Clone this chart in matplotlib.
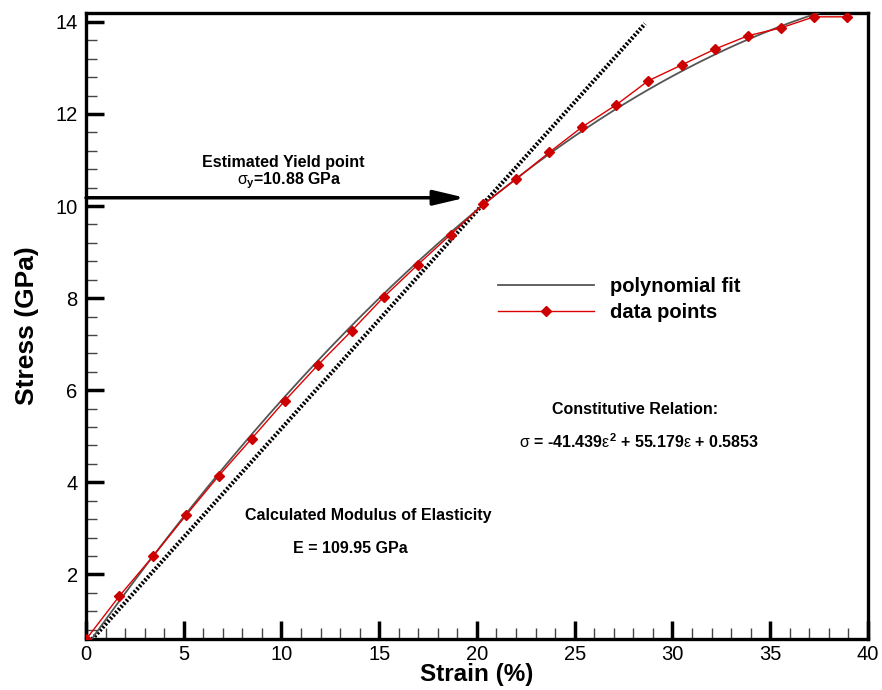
import matplotlib
matplotlib.use("Agg")
import matplotlib.pyplot as plt
import numpy as np
from matplotlib.ticker import MultipleLocator

# measured stress-strain points
strain = [0.0, 1.69, 3.42, 5.11, 6.79, 8.48, 10.17, 11.85, 13.59, 15.22, 16.96, 18.65,
          20.33, 22.02, 23.71, 25.39, 27.13, 28.76, 30.5, 32.18, 33.87, 35.55, 37.24, 38.93]
stress = [0.585, 1.52, 2.39, 3.28, 4.14, 4.95, 5.77, 6.54, 7.29, 8.02, 8.72, 9.38,
          10.04, 10.59, 11.17, 11.72, 12.20, 12.72, 13.07, 13.41, 13.70, 13.87, 14.11, 14.11]

# linear elastic line (end points)
elastic_strain = [0.3, 28.6]
elastic_stress = [0.585, 13.96]

yield_stress = 10.18
yield_strain = 19.4

x_ticks = [0, 5, 10, 15, 20, 25, 30, 35, 40]
y_ticks = [2, 4, 6, 8, 10, 12, 14]

plt.rcParams['font.family'] = ['Liberation Sans', 'DejaVu Sans']
plt.rcParams['mathtext.fontset'] = 'custom'
plt.rcParams['mathtext.rm'] = 'Liberation Sans'
plt.rcParams['mathtext.it'] = 'Liberation Sans'
plt.rcParams['mathtext.bf'] = 'Liberation Sans:bold'

fig = plt.figure(figsize=(8.82, 6.9), dpi=100)
ax = fig.add_axes([0.0975, 0.0732, 0.8865, 0.9084])

coef = np.polyfit(strain, stress, 2)
xs = np.linspace(0, 39, 300)
ax.plot(xs, np.polyval(coef, xs), color='#555555', lw=1.3, label='polynomial fit', zorder=3)
ax.plot(strain, stress, color='#dd0000', lw=1.0, marker='D', markersize=5.5,
        markeredgecolor='#cc0000', markerfacecolor='#cc0000', label='data points', zorder=4)
ax.plot(elastic_strain, elastic_stress, color='black', lw=3.0, linestyle=(0, (0.5, 0.45)), zorder=2)

ax.annotate('', xy=(yield_strain, yield_stress), xytext=(0, yield_stress),
            arrowprops=dict(arrowstyle='-|>,head_length=1.9,head_width=0.45', lw=2.5,
                            color='black', shrinkA=0, shrinkB=0))

ax.text(10.1, 10.95, 'Estimated Yield point', ha='center', va='center', fontsize=11.5, fontweight='bold')
ax.text(10.4, 10.55, r'$\sigma_\mathbf{y}$=10.88 GPa', ha='center', va='center', fontsize=11.5, fontweight='bold')
ax.text(28.1, 5.59, 'Constitutive Relation:', ha='center', va='center', fontsize=11.5, fontweight='bold')
ax.text(28.3, 4.89, r'$\sigma$ = -41.439$\varepsilon^\mathbf{2}$ + 55.179$\varepsilon$ + 0.5853',
        ha='center', va='center', fontsize=11.5, fontweight='bold')
ax.text(14.45, 3.28, 'Calculated Modulus of Elasticity', ha='center', va='center', fontsize=11.5, fontweight='bold')
ax.text(13.5, 2.57, 'E = 109.95 GPa', ha='center', va='center', fontsize=11.5, fontweight='bold')

leg = ax.legend(loc='center left', bbox_to_anchor=(0.527, 0.5425), frameon=False,
                borderpad=0, borderaxespad=0, handlelength=4.75, handletextpad=0.8,
                labelspacing=0.35, prop={'size': 14.5, 'weight': 'bold'})

ax.set_xlim(0, 40)
ax.set_ylim(0.585, 14.2)
ax.set_xticks(x_ticks)
ax.set_yticks(y_ticks)
ax.xaxis.set_minor_locator(MultipleLocator(1))
ax.yaxis.set_minor_locator(MultipleLocator(0.4))
ax.tick_params(which='major', direction='in', length=13, width=2.5, labelsize=14.5, pad=6)
ax.tick_params(axis='x', which='major', pad=4)
ax.tick_params(which='minor', direction='in', length=8, width=1, color='#444444')
for s in ax.spines.values():
    s.set_linewidth(2.4)

ax.set_xlabel('Strain (%)', fontsize=17.5, fontweight='bold', labelpad=-1)
ax.set_ylabel('Stress (GPa)', fontsize=19, fontweight='bold', labelpad=12)

fig.savefig('out.png', dpi=100)
